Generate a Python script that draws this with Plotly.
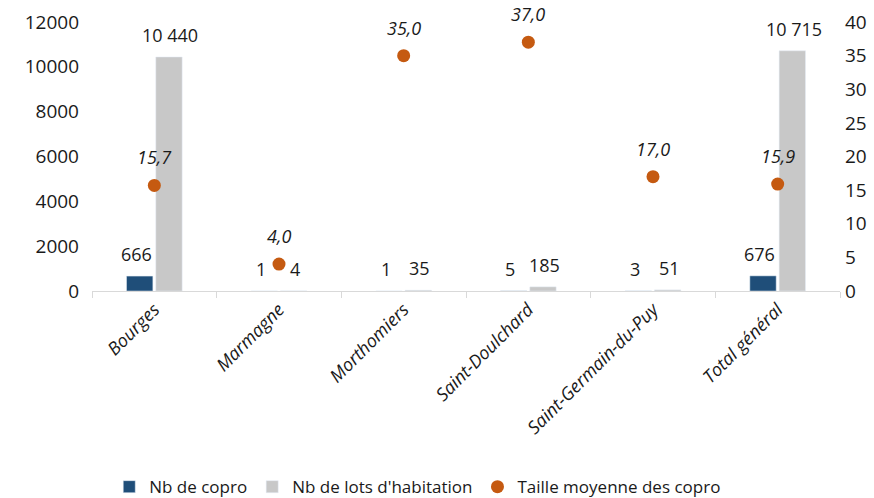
import plotly.graph_objects as go

communes = ["Bourges", "Marmagne", "Morthomiers", "Saint-Doulchard",
            "Saint-Germain-du-Puy", "Total général"]
nb_copro = [666, 1, 1, 5, 3, 676]
nb_lots = [10440, 4, 35, 185, 51, 10715]
taille_moy = [15.7, 4.0, 35.0, 37.0, 17.0, 15.9]

FONT = "Open Sans"
TXT = "#1a1a1a"
BLUE = "#1F4E79"
GREY = "#C8C8C8"
ORANGE = "#C55A11"


def fmt_int(v):
    return f"{v:,}".replace(",", " ")


def fmt_dec(v):
    return f"{v:.1f}".replace(".", ",")


fig = go.Figure()
fig.add_trace(go.Bar(x=communes, y=nb_copro, name="Nb de copro",
                     marker_color=BLUE, yaxis="y"))
fig.add_trace(go.Bar(x=communes, y=nb_lots, name="Nb de lots d'habitation",
                     marker_color=GREY, yaxis="y"))
fig.add_trace(go.Scatter(x=communes, y=taille_moy, name="Taille moyenne des copro",
                         mode="markers", marker=dict(color=ORANGE, size=13),
                         yaxis="y2"))

annotations = []
for c, a, b, t in zip(communes, nb_copro, nb_lots, taille_moy):
    annotations.append(dict(x=c, y=a, yref="y", text=fmt_int(a), showarrow=False,
                            xshift=-18, yshift=22,
                            font=dict(family=FONT, size=18, color=TXT)))
    annotations.append(dict(x=c, y=b, yref="y", text=fmt_int(b), showarrow=False,
                            xshift=16, yshift=22,
                            font=dict(family=FONT, size=18, color=TXT)))
    annotations.append(dict(x=c, y=t, yref="y2", text=f"<i>{fmt_dec(t)}</i>",
                            showarrow=False, yshift=28,
                            font=dict(family=FONT, size=18, color=TXT)))

fig.update_layout(
    width=874, height=498,
    margin=dict(l=92, r=34, t=22, b=207, autoexpand=False),
    paper_bgcolor="white", plot_bgcolor="white",
    font=dict(family=FONT, size=17, color=TXT),
    barmode="group", bargap=0.53, bargroupgap=0.1,
    showlegend=True,
    legend=dict(orientation="h", x=0.125, xanchor="left", xref="container",
                y=0.058, yanchor="top", yref="container",
                font=dict(family=FONT, size=17, color=TXT),
                itemwidth=30, tracegroupgap=0),
    xaxis=dict(showline=True, linecolor="#D9D9D9", linewidth=1,
               ticks="outside", tickson="boundaries", ticklen=6, tickcolor="#D9D9D9",
               tickangle=-45, showgrid=False, automargin=False,
               tickfont=dict(family=FONT, size=18, color=TXT, style="italic")),
    yaxis=dict(range=[0, 12000], dtick=2000, showgrid=False, zeroline=False,
               showline=False, tickformat="d", automargin=False,
               ticklabelstandoff=12,
               tickfont=dict(family=FONT, size=19, color=TXT)),
    yaxis2=dict(range=[0, 40], dtick=5, overlaying="y", side="right",
                showgrid=False, zeroline=False, showline=False, automargin=False,
                ticklabelstandoff=4,
                tickfont=dict(family=FONT, size=19, color=TXT)),
    annotations=annotations,
)

fig.write_html("out.html")
